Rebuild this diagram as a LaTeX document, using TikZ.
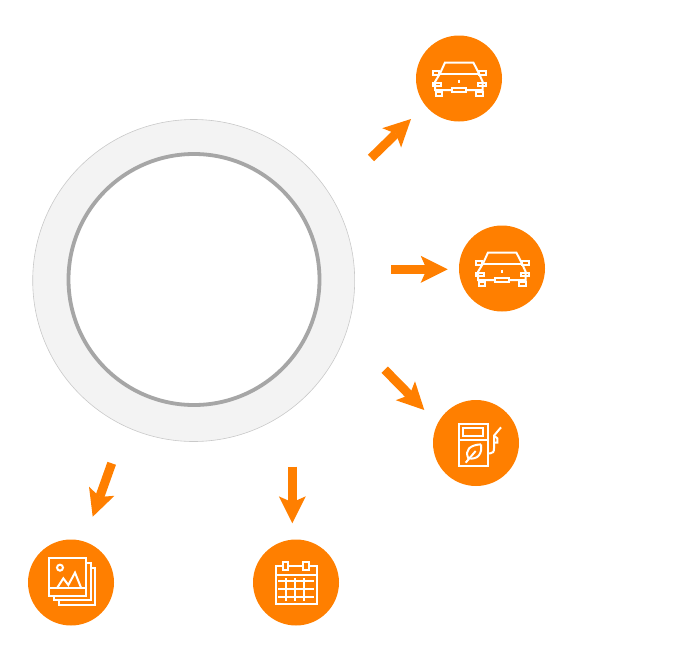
\documentclass[tikz,border=0pt]{standalone}
\usetikzlibrary{arrows.meta}
\definecolor{brand}{HTML}{FF7F00}
\definecolor{ringfill}{HTML}{F3F3F3}
\definecolor{ringedge}{HTML}{C9C9C9}
\definecolor{ringline}{HTML}{A6A6A6}
\tikzset{
  disc/.style={circle,fill=brand,inner sep=0pt,minimum size=86pt},
  hubouter/.style={circle,draw=ringedge,line width=.6pt,fill=ringfill,inner sep=0pt,minimum size=322pt},
  hubinner/.style={circle,draw=ringline,line width=3.8pt,fill=white,inner sep=0pt,minimum size=251pt},
  flow/.style={draw=brand,line width=9pt,-{Stealth[length=27pt,width=27pt,inset=6pt,fill=brand,line width=0pt]}},
  glyph/.style={draw=white,line width=2pt,x=.3333pt,y=-.3333pt,line join=miter},
  car/.pic={
    \begin{scope}[glyph,shift={(-147,-145)}]
      \draw (90,130) -- (105,97) -- (190,97) -- (207,130);
      \draw (90,130) -- (207,130);
      \draw (90,130) -- (75,155) -- (75,180) -- (125,180);
      \draw (207,130) -- (218,155) -- (218,180) -- (167,180);
      \draw (125,172) rectangle (167,186);
      \draw (68,122) rectangle (88,135);
      \draw (207,122) rectangle (227,135);
      \draw (68,157) rectangle (92,168);
      \draw (203,157) rectangle (227,168);
      \draw (78,186) rectangle (97,198);
      \draw (197,186) rectangle (218,198);
      \draw (147,148) -- (147,158);
    \end{scope}
  },
  pump/.pic={
    \begin{scope}[glyph,shift={(-153,-144)}]
      \draw (101,87) rectangle (188,213);
      \draw (114,98) rectangle (175,122);
      \draw (101,135) -- (188,135);
      \draw (168,148) .. controls (135,150) and (118,165) .. (130,190)
            .. controls (160,195) and (172,175) .. (168,148);
      \draw (122,203) -- (152,168);
      \draw (188,175) -- (196,175) .. controls (204,175) and (207,170) .. (207,160)
            -- (207,122) -- (228,97);
      \draw (207,122) -- (217,130) -- (217,143) -- (207,143);
    \end{scope}
  },
  stack/.pic={
    \begin{scope}[glyph,shift={(-153,-142.5)}]
      \draw (86,70) rectangle (197,183);
      \draw (86,160) -- (197,160);
      \draw (120,98) circle[radius=9];
      \draw (112,158) -- (130,130) -- (145,150) -- (165,113) -- (183,158);
      \draw (197,85) -- (212,85) -- (212,196) -- (102,196) -- (102,183);
      \draw (212,100) -- (224,100) -- (224,209) -- (117,209) -- (117,196);
    \end{scope}
  },
  cal/.pic={
    \begin{scope}[glyph,shift={(-153,-142.5)}]
      \draw (92,92) rectangle (217,208);
      \draw (92,119) -- (217,119);
      \draw[fill=brand] (113,82) rectangle (130,106);
      \draw[fill=brand] (175,82) rectangle (192,106);
      \foreach \gy in {138,162,185} \draw (100,\gy) -- (208,\gy);
      \foreach \gx in {122,150,177} \draw (\gx,130) -- (\gx,198);
    \end{scope}
  }
}
\begin{document}
\begin{tikzpicture}[x=1pt,y=-1pt]
  \useasboundingbox (0,0) rectangle (697,654);
  \node[hubouter] (hub) at (193.7,280.5) {};
  \node[hubinner] (core) at (194,279.5) {};

  \node[disc] (carA) at (459,78.5) {};
  \node[disc] (carB) at (502,268.5) {};
  \node[disc] (fuel) at (476,443) {};
  \node[disc] (media) at (71,582.5) {};
  \node[disc] (date) at (296,582.5) {};

  \pic at (carA) {car};
  \pic at (carB) {car};
  \pic at (fuel) {pump};
  \pic at (media) {stack};
  \pic at (date) {cal};

  \coordinate (sA) at (371,158);   \coordinate (tA) at (411,119);
  \coordinate (sB) at (391.3,269.3); \coordinate (tB) at (447.7,269.3);
  \coordinate (sC) at (384.7,369.7); \coordinate (tC) at (424.3,410);
  \coordinate (sD) at (111.7,463.3); \coordinate (tD) at (92.7,516.7);
  \coordinate (sE) at (292.3,466.7); \coordinate (tE) at (292.3,523.3);

  \draw[flow] (sA) -- (tA);
  \draw[flow] (sB) -- (tB);
  \draw[flow] (sC) -- (tC);
  \draw[flow] (sD) -- (tD);
  \draw[flow] (sE) -- (tE);
\end{tikzpicture}
\end{document}
